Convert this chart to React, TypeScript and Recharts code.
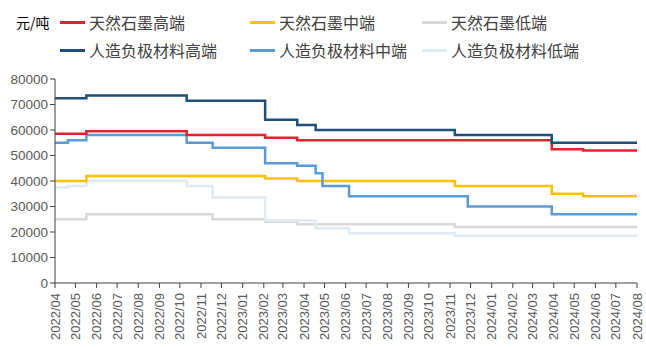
import React from 'react';
import { LineChart, Line, XAxis, YAxis } from 'recharts';

// 月度刻度
const monthLabels = [
  '2022/04', '2022/05', '2022/06', '2022/07', '2022/08', '2022/09', '2022/10', '2022/11', '2022/12',
  '2023/01', '2023/02', '2023/03', '2023/04', '2023/05', '2023/06', '2023/07', '2023/08', '2023/09',
  '2023/10', '2023/11', '2023/12', '2024/01', '2024/02', '2024/03', '2024/04', '2024/05', '2024/06',
  '2024/07', '2024/08',
];

// 天然石墨高端
const naturalHighDates = ['2022-04-01', '2022-05-17', '2022-10-11', '2023-02-03', '2023-03-22', '2024-03-29', '2024-05-14', '2024-08-01'];
const naturalHighValues = [58500, 59500, 58000, 57000, 56000, 52500, 52000, 52000];

// 天然石墨中端
const naturalMidDates = ['2022-04-01', '2022-05-17', '2023-02-03', '2023-03-22', '2023-11-08', '2024-03-29', '2024-05-14', '2024-08-01'];
const naturalMidValues = [40000, 42000, 41000, 40000, 38000, 35000, 34000, 34000];

// 天然石墨低端
const naturalLowDates = ['2022-04-01', '2022-05-17', '2022-11-18', '2023-02-03', '2023-03-22', '2023-11-08', '2024-08-01'];
const naturalLowValues = [25000, 27000, 25000, 24000, 23000, 22000, 22000];

// 人造负极材料高端
const artificialHighDates = ['2022-04-01', '2022-05-17', '2022-10-11', '2023-02-03', '2023-03-22', '2023-04-18', '2023-11-08', '2024-03-29', '2024-08-01'];
const artificialHighValues = [72500, 73500, 71500, 64000, 62000, 60000, 58000, 55000, 55000];

// 人造负极材料中端
const artificialMidDates = [
  '2022-04-01', '2022-04-20', '2022-05-17', '2022-10-11', '2022-11-18', '2023-02-03', '2023-03-22',
  '2023-04-18', '2023-04-28', '2023-06-06', '2023-11-27', '2024-03-29', '2024-08-01',
];
const artificialMidValues = [55000, 56000, 58000, 55000, 53000, 47000, 46000, 43000, 38000, 34000, 30000, 27000, 27000];

// 人造负极材料低端
const artificialLowDates = ['2022-04-01', '2022-04-20', '2022-05-17', '2022-10-11', '2022-11-18', '2023-02-03', '2023-04-18', '2023-06-06', '2023-11-08', '2024-08-01'];
const artificialLowValues = [37500, 38000, 40000, 38000, 33500, 24500, 21500, 19500, 18500, 18500];

const yTicks = [0, 10000, 20000, 30000, 40000, 50000, 60000, 70000, 80000];

const toTime = (s: string) => Date.parse(s);
const monthTicks = monthLabels.map((m) => Date.parse(m.replace('/', '-') + '-01'));
const labelOf = (t: number) => {
  const d = new Date(t);
  return `${d.getUTCFullYear()}/${String(d.getUTCMonth() + 1).padStart(2, '0')}`;
};

const build = (dates: string[], values: number[]) => dates.map((d, i) => ({ t: toTime(d), v: values[i] }));

const series = [
  { name: '天然石墨高端', color: '#E8202E', data: build(naturalHighDates, naturalHighValues) },
  { name: '天然石墨中端', color: '#FFC000', data: build(naturalMidDates, naturalMidValues) },
  { name: '天然石墨低端', color: '#D9D9D9', data: build(naturalLowDates, naturalLowValues) },
  { name: '人造负极材料高端', color: '#1F4E79', data: build(artificialHighDates, artificialHighValues) },
  { name: '人造负极材料中端', color: '#5B9BD5', data: build(artificialMidDates, artificialMidValues) },
  { name: '人造负极材料低端', color: '#DDEBF7', data: build(artificialLowDates, artificialLowValues) },
];

// 绘制顺序：浅色在下
const drawOrder = [2, 5, 1, 4, 0, 3];

const legendCols = [60, 250, 422];
const cjkFont = '"Noto Sans CJK SC", sans-serif';
const numFont = '"Liberation Sans", Arial, sans-serif';

const MonthTick = (props: any) => {
  const { x, y, payload } = props;
  return (
    <text
      x={0}
      y={0}
      transform={`translate(${x + 4.5},${y + 3}) rotate(-90)`}
      textAnchor="end"
      fill="#595959"
      fontSize={13}
      fontFamily={numFont}
    >
      {labelOf(payload.value)}
    </text>
  );
};

const App: React.FC = () => {
  return (
    <div style={{ position: 'absolute', left: 0, top: 0, width: 646, height: 347, background: '#fff' }}>
      <div style={{ position: 'absolute', left: 16, top: 12, fontSize: 14, fontFamily: cjkFont, color: '#000' }}>元/吨</div>
      {series.map((s, i) => {
        const row = Math.floor(i / 3);
        const col = i % 3;
        return (
          <div
            key={s.name}
            style={{
              position: 'absolute',
              left: legendCols[col],
              top: 10 + row * 28,
              display: 'flex',
              alignItems: 'center',
              fontFamily: cjkFont,
              fontSize: 16,
              color: '#404040',
              whiteSpace: 'nowrap',
            }}
          >
            <span style={{ display: 'inline-block', width: 25, height: 3, background: s.color, marginRight: 4 }} />
            {s.name}
          </div>
        );
      })}
      <LineChart width={646} height={347} margin={{ top: 79, right: 9, bottom: 4, left: 8 }}>
        <XAxis
          dataKey="t"
          type="number"
          domain={[monthTicks[0], monthTicks[monthTicks.length - 1]]}
          ticks={monthTicks}
          interval={0}
          allowDataOverflow
          height={60}
          tick={<MonthTick />}
          tickSize={5}
          axisLine={{ stroke: '#404040', strokeWidth: 1 }}
          tickLine={{ stroke: '#404040' }}
        />
        <YAxis
          type="number"
          domain={[0, 80000]}
          ticks={yTicks}
          interval={0}
          width={47}
          tickSize={5}
          axisLine={{ stroke: '#404040', strokeWidth: 1 }}
          tickLine={{ stroke: '#404040' }}
          tick={{ fill: '#595959', fontSize: 13.5, fontFamily: numFont }}
        />
        {drawOrder.map((idx) => {
          const s = series[idx];
          return (
            <Line
              key={s.name}
              data={s.data}
              dataKey="v"
              name={s.name}
              type="stepAfter"
              stroke={s.color}
              strokeWidth={2.5}
              dot={false}
              isAnimationActive={false}
            />
          );
        })}
      </LineChart>
    </div>
  );
};

export default App;
